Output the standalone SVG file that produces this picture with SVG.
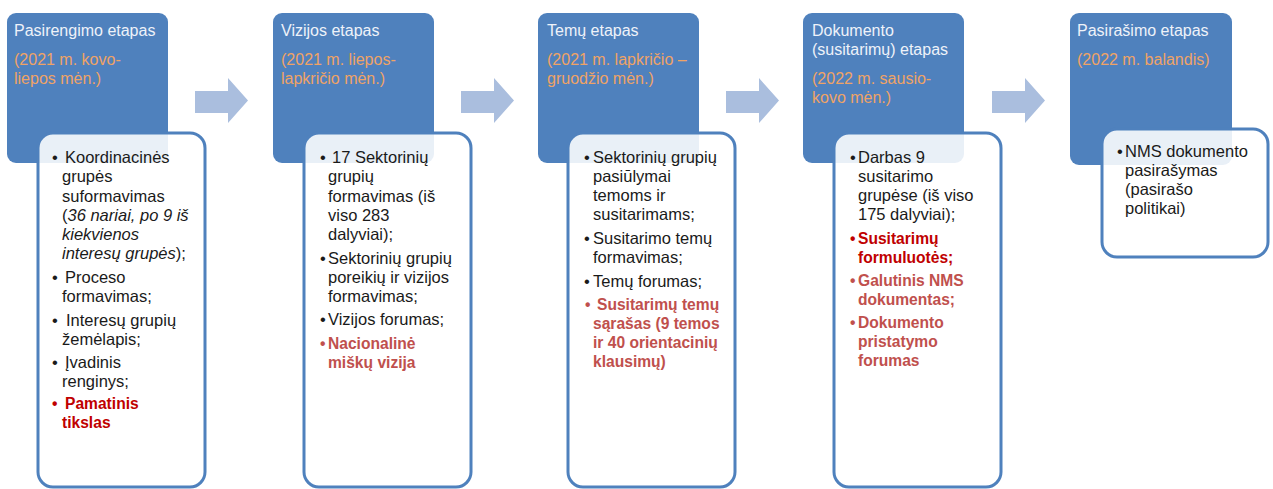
<svg xmlns="http://www.w3.org/2000/svg" width="1273" height="489" viewBox="0 0 1273 489">
<style>
.hd{fill:#4F81BD}
.bx{fill:#FFFFFF;fill-opacity:0.88;stroke:#4F81BD;stroke-width:3}
.ttl{font-family:"Liberation Sans",Arial,sans-serif;font-size:16px;fill:#EEF2F9}
.dt{font-family:"Liberation Sans",Arial,sans-serif;font-size:16px;fill:#F0A365}
.tx{font-family:"Liberation Sans",Arial,sans-serif;font-size:16.5px;fill:#1A1A1A}
.r1{fill:#C00000;font-weight:bold;font-size:15.6px}
.r2{fill:#C0504D;font-weight:bold;font-size:15.6px}
.it{font-style:italic}
.ar{fill:#AABEDE}
</style>
<g id="connectors">
<polygon class="ar" points="195,91 228,91 228,78 248,100.5 228,123 228,113 195,113"/>
<polygon class="ar" points="461,91 494,91 494,78 514,100.5 494,123 494,113 461,113"/>
<polygon class="ar" points="726,91 759,91 759,78 779,100.5 759,123 759,113 726,113"/>
<polygon class="ar" points="992,91 1025,91 1025,78 1045,100.5 1025,123 1025,113 992,113"/>
</g>
<g id="stage1">
<rect class="hd" x="7" y="13" width="161" height="150" rx="9"/>
<rect class="bx" x="38" y="133" width="167" height="354" rx="15"/>
<text class="ttl" x="14" y="36">Pasirengimo etapas</text>
<text class="dt" x="14" y="65">(2021 m. kovo-</text>
<text class="dt" x="14" y="84">liepos mėn.)</text>
<text class="tx">
<tspan x="52" y="163">•</tspan><tspan x="65" y="163">Koordinacinės</tspan>
<tspan x="62" y="182">grupės</tspan>
<tspan x="62" y="202">suformavimas</tspan>
<tspan x="62" y="221">(<tspan class="it">36 nariai, po 9 iš</tspan></tspan>
<tspan x="62" y="240" class="it">kiekvienos</tspan>
<tspan x="62" y="259"><tspan class="it">interesų grupės</tspan>);</tspan>
<tspan x="52" y="283">•</tspan><tspan x="65" y="283">Proceso</tspan>
<tspan x="62" y="302">formavimas;</tspan>
<tspan x="52" y="326">•</tspan><tspan x="66" y="326">Interesų grupių</tspan>
<tspan x="62" y="345">žemėlapis;</tspan>
<tspan x="52" y="368">•</tspan><tspan x="65" y="368">Įvadinis</tspan>
<tspan x="62" y="387">renginys;</tspan>
<tspan x="52" y="409" class="r1">•</tspan><tspan x="65" y="409" class="r1">Pamatinis</tspan>
<tspan x="62" y="428" class="r1">tikslas</tspan>
</text>
</g>
<g id="stage2">
<rect class="hd" x="273" y="13" width="161" height="150" rx="9"/>
<rect class="bx" x="304" y="133" width="167" height="354" rx="15"/>
<text class="ttl" x="281" y="36">Vizijos etapas</text>
<text class="dt" x="281" y="65">(2021 m. liepos-</text>
<text class="dt" x="281" y="84">lapkričio mėn.)</text>
<text class="tx">
<tspan x="320" y="163">•</tspan><tspan x="332" y="163">17 Sektorinių</tspan>
<tspan x="328" y="182">grupių</tspan>
<tspan x="328" y="202">formavimas (iš</tspan>
<tspan x="328" y="221">viso 283</tspan>
<tspan x="328" y="240">dalyviai);</tspan>
<tspan x="320" y="264">•</tspan><tspan x="328" y="264">Sektorinių grupių</tspan>
<tspan x="328" y="283">poreikių ir vizijos</tspan>
<tspan x="328" y="302">formavimas;</tspan>
<tspan x="320" y="325">•</tspan><tspan x="328" y="325">Vizijos forumas;</tspan>
<tspan x="320" y="349" class="r2">•</tspan><tspan x="328" y="349" class="r2">Nacionalinė</tspan>
<tspan x="328" y="368" class="r2">miškų vizija</tspan>
</text>
</g>
<g id="stage3">
<rect class="hd" x="538" y="13" width="161" height="150" rx="9"/>
<rect class="bx" x="568" y="133" width="167" height="354" rx="15"/>
<text class="ttl" x="547" y="36">Temų etapas</text>
<text class="dt" x="547" y="65">(2021 m. lapkričio –</text>
<text class="dt" x="547" y="84">gruodžio mėn.)</text>
<text class="tx">
<tspan x="584" y="163">•</tspan><tspan x="593" y="163">Sektorinių grupių</tspan>
<tspan x="593" y="182">pasiūlymai</tspan>
<tspan x="593" y="201">temoms ir</tspan>
<tspan x="593" y="220">susitarimams;</tspan>
<tspan x="584" y="244">•</tspan><tspan x="593" y="244">Susitarimo temų</tspan>
<tspan x="593" y="263">formavimas;</tspan>
<tspan x="584" y="287">•</tspan><tspan x="593" y="287">Temų forumas;</tspan>
<tspan x="585" y="310" class="r2">•</tspan><tspan x="597" y="310" class="r2">Susitarimų temų</tspan>
<tspan x="593" y="329" class="r2">sąrašas (9 temos</tspan>
<tspan x="593" y="348" class="r2">ir 40 orientacinių</tspan>
<tspan x="593" y="367" class="r2">klausimų)</tspan>
</text>
</g>
<g id="stage4">
<rect class="hd" x="803" y="13" width="161" height="150" rx="9"/>
<rect class="bx" x="834" y="133" width="167" height="354" rx="15"/>
<text class="ttl" x="812" y="36">Dokumento</text>
<text class="ttl" x="812" y="55">(susitarimų) etapas</text>
<text class="dt" x="812" y="84">(2022 m. sausio-</text>
<text class="dt" x="812" y="103">kovo mėn.)</text>
<text class="tx">
<tspan x="850" y="163">•</tspan><tspan x="858" y="163">Darbas 9</tspan>
<tspan x="858" y="182">susitarimo</tspan>
<tspan x="858" y="201">grupėse (iš viso</tspan>
<tspan x="858" y="220">175 dalyviai);</tspan>
<tspan x="850" y="244" class="r1">•</tspan><tspan x="858" y="244" class="r1">Susitarimų</tspan>
<tspan x="858" y="263" class="r1">formuluotės;</tspan>
<tspan x="850" y="286" class="r2">•</tspan><tspan x="858" y="286" class="r2">Galutinis NMS</tspan>
<tspan x="858" y="305" class="r2">dokumentas;</tspan>
<tspan x="850" y="328" class="r2">•</tspan><tspan x="858" y="328" class="r2">Dokumento</tspan>
<tspan x="858" y="347" class="r2">pristatymo</tspan>
<tspan x="858" y="366" class="r2">forumas</tspan>
</text>
</g>
<g id="stage5">
<rect class="hd" x="1070" y="13" width="162" height="152" rx="9"/>
<rect class="bx" x="1102" y="129" width="166" height="128" rx="15"/>
<text class="ttl" x="1077" y="36">Pasirašimo etapas</text>
<text class="dt" x="1077" y="65">(2022 m. balandis)</text>
<text class="tx">
<tspan x="1117" y="157">•</tspan><tspan x="1125" y="157">NMS dokumento</tspan>
<tspan x="1125" y="176">pasirašymas</tspan>
<tspan x="1125" y="195">(pasirašo</tspan>
<tspan x="1125" y="214">politikai)</tspan>
</text>
</g>
</svg>
